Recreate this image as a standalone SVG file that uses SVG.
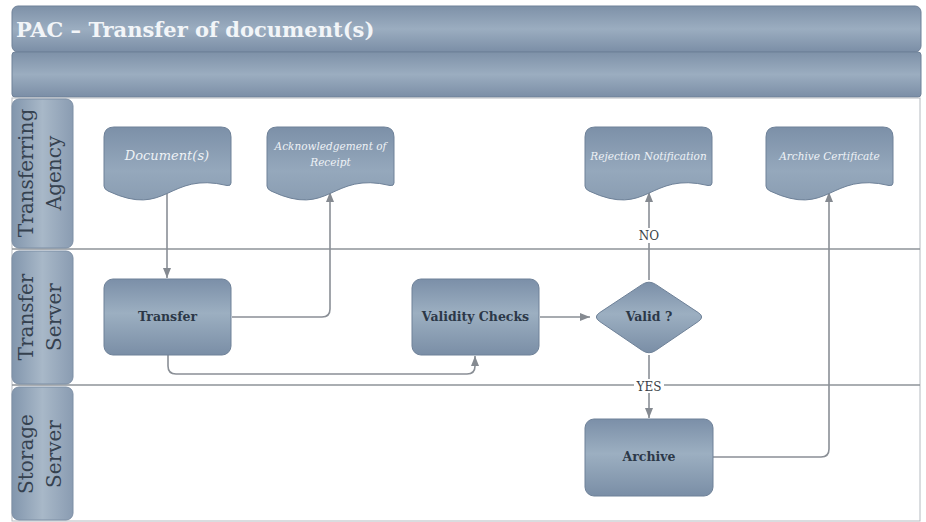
<svg xmlns="http://www.w3.org/2000/svg" width="926" height="522" viewBox="0 0 926 522">
<defs>
<linearGradient id="barG" x1="0" y1="0" x2="0" y2="1">
<stop offset="0" stop-color="#7e91a8"/><stop offset="0.5" stop-color="#9badc0"/><stop offset="1" stop-color="#7b8ea6"/>
</linearGradient>
<linearGradient id="laneG" x1="0" y1="0" x2="1" y2="0">
<stop offset="0" stop-color="#8296ad"/><stop offset="0.5" stop-color="#a8b8c8"/><stop offset="1" stop-color="#8a9cb2"/>
</linearGradient>
<linearGradient id="procG" x1="0" y1="0" x2="0" y2="1">
<stop offset="0" stop-color="#7b8fa8"/><stop offset="0.45" stop-color="#9cafc1"/><stop offset="1" stop-color="#7a8ea6"/>
</linearGradient>
<linearGradient id="docG" x1="0" y1="0" x2="0" y2="1">
<stop offset="0" stop-color="#7c90a8"/><stop offset="0.6" stop-color="#95a8bc"/><stop offset="1" stop-color="#8a9db2"/>
</linearGradient>
<marker id="arr" markerUnits="userSpaceOnUse" markerWidth="10" markerHeight="10" viewBox="0 0 10 10" refX="10" refY="5" orient="auto">
<path d="M0,1 L10,5 L0,9 Z" fill="#858a91"/>
</marker>
<path id="doc" d="M0,10 Q0,0 10,0 H117 Q127,0 127,10 V56 Q127,59 123,58.5 C63.5,44 63.5,92 4,64 Q0,62 0,59 Z"/>
</defs>
<style>
.bar{fill:url(#barG);stroke:#6f8198;stroke-width:1}
.lane{fill:url(#laneG);stroke:#7d8fa5;stroke-width:1}
.proc{fill:url(#procG);stroke:#6e8198;stroke-width:1}
.docs{fill:url(#docG);stroke:#6e8198;stroke-width:1}
.sep{stroke:#8e9399;stroke-width:1.6;fill:none}
.con{stroke:#8a8f96;stroke-width:1.6;fill:none}
.title{font-family:"DejaVu Serif","Liberation Serif",serif;font-weight:bold;font-size:21px;fill:#f2f5f8}
.lt{font-family:"DejaVu Serif","Liberation Serif",serif;font-size:20px;fill:#35414f;text-anchor:middle}
.pt{font-family:"DejaVu Serif","Liberation Serif",serif;font-weight:bold;font-size:12.5px;fill:#2c3848;text-anchor:middle}
.dt{font-family:"DejaVu Serif","Liberation Serif",serif;font-style:italic;fill:#eef2f6;text-anchor:middle}
.lbl{font-family:"DejaVu Serif","Liberation Serif",serif;font-size:12px;fill:#3a3f47;text-anchor:middle}
</style>
<rect x="0" y="0" width="926" height="522" fill="#ffffff"/>
<g id="header">
<rect class="bar" x="12" y="6" width="909" height="46" rx="6"/>
<rect class="bar" x="12" y="52" width="909" height="45" rx="3"/>
<text class="title" x="16" y="37">PAC – Transfer of document(s)</text>
</g>
<g id="lanes">
<rect x="12" y="98" width="908" height="423" fill="#ffffff" stroke="#b5bac0" stroke-width="1"/>
<line class="sep" x1="12" y1="249" x2="920" y2="249"/>
<line class="sep" x1="12" y1="385" x2="920" y2="385"/>
<g id="lane-agency">
<rect class="lane" x="12" y="99" width="61" height="149" rx="7"/>
<text class="lt" transform="translate(33,173) rotate(-90)">Transferring</text>
<text class="lt" transform="translate(61,173) rotate(-90)">Agency</text>
</g>
<g id="lane-transfer">
<rect class="lane" x="12" y="251" width="61" height="133" rx="7"/>
<text class="lt" transform="translate(33,317) rotate(-90)">Transfer</text>
<text class="lt" transform="translate(61,317) rotate(-90)">Server</text>
</g>
<g id="lane-storage">
<rect class="lane" x="12" y="387" width="61" height="133" rx="7"/>
<text class="lt" transform="translate(33,454) rotate(-90)">Storage</text>
<text class="lt" transform="translate(61,454) rotate(-90)">Server</text>
</g>
</g>
<g id="connectors">
<path class="con" d="M167,192 V278" marker-end="url(#arr)"/>
<path class="con" d="M232,317 H322 Q330,317 330,309 V192" marker-end="url(#arr)"/>
<path class="con" d="M168,355 V366 Q168,374 176,374 H467 Q475,374 475,366 V356" marker-end="url(#arr)"/>
<path class="con" d="M540,317 H590" marker-end="url(#arr)"/>
<path class="con" d="M649,280 V192" marker-end="url(#arr)"/>
<path class="con" d="M649,355 V418" marker-end="url(#arr)"/>
<path class="con" d="M713,457 H821 Q829,457 829,449 V192" marker-end="url(#arr)"/>
<rect x="637" y="228" width="24" height="15" fill="#ffffff"/>
<text class="lbl" x="649" y="240">NO</text>
<rect x="634" y="379" width="30" height="14" fill="#ffffff"/>
<text class="lbl" x="649" y="391">YES</text>
</g>
<g id="doc-documents">
<use href="#doc" class="docs" x="104" y="127"/>
<text class="dt" x="167" y="160" font-size="13">Document(s)</text>
</g>
<g id="doc-ack">
<use href="#doc" class="docs" x="267" y="127"/>
<text class="dt" x="330.5" y="150" font-size="10.5">Acknowledgement of</text>
<text class="dt" x="330.5" y="166" font-size="10.5">Receipt</text>
</g>
<g id="doc-rejection">
<use href="#doc" class="docs" x="585" y="127"/>
<text class="dt" x="648.5" y="160" font-size="10.5">Rejection Notification</text>
</g>
<g id="doc-certificate">
<use href="#doc" class="docs" x="766" y="127"/>
<text class="dt" x="829.5" y="160" font-size="10.5">Archive Certificate</text>
</g>
<g id="proc-transfer">
<rect class="proc" x="104" y="279" width="127" height="76" rx="9"/>
<text class="pt" x="167.5" y="321">Transfer</text>
</g>
<g id="proc-validity">
<rect class="proc" x="412" y="279" width="127" height="76" rx="9"/>
<text class="pt" x="475.5" y="321">Validity Checks</text>
</g>
<g id="dec-valid">
<path class="proc" d="M599.7,312.6 L642.3,284.4 Q649,280 655.7,284.4 L698.3,312.6 Q705,317 698.3,321.5 L655.7,350.5 Q649,355 642.3,350.5 L599.7,321.5 Q593,317 599.7,312.6 Z"/>
<text class="pt" x="649" y="321">Valid ?</text>
</g>
<g id="proc-archive">
<rect class="proc" x="585" y="419" width="128" height="77" rx="9"/>
<text class="pt" x="649" y="461">Archive</text>
</g>
</svg>
